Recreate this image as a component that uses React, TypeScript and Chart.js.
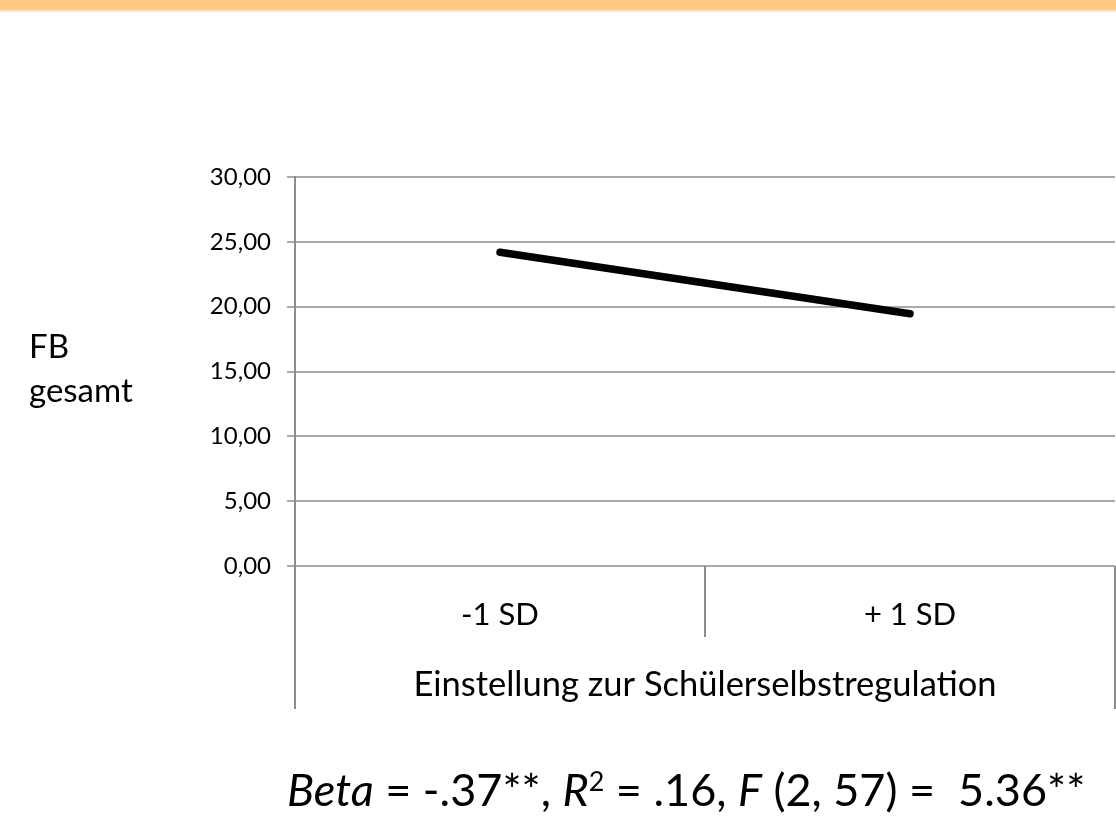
import React, { useEffect, useRef } from "react";
import { Chart, registerables } from "chart.js";

Chart.register(...registerables);

const categories = ["-1 SD", "+ 1 SD"];
const fbGesamt = [24.2, 19.45];
const yMin = 0;
const yMax = 30;
const yStep = 5;
const xTitle = "Einstellung zur Schülerselbstregulation";
const FONT = "Lato, 'Noto Sans', sans-serif";

const dividerPlugin = {
  id: "dividers",
  afterDraw(chart: any) {
    const { ctx, chartArea, scales } = chart;
    const x = scales.x;
    const mid = (x.getPixelForValue(0) + x.getPixelForValue(1)) / 2;
    ctx.save();
    ctx.strokeStyle = "#8c8c8c";
    ctx.lineWidth = 2;
    ctx.beginPath();
    ctx.moveTo(chartArea.left, chartArea.bottom);
    ctx.lineTo(chartArea.left, 709);
    ctx.moveTo(chartArea.right, chartArea.bottom);
    ctx.lineTo(chartArea.right, 709);
    ctx.moveTo(mid, chartArea.bottom);
    ctx.lineTo(mid, 637);
    ctx.stroke();
    ctx.restore();
  },
};

export default function App() {
  const ref = useRef<HTMLCanvasElement | null>(null);
  useEffect(() => {
    if (!ref.current) return;
    const chart = new Chart(ref.current, {
      type: "line",
      data: {
        labels: categories,
        datasets: [
          {
            data: fbGesamt,
            borderColor: "#000",
            borderWidth: 7.5,
            borderCapStyle: "round",
            pointRadius: 0,
            fill: false,
          },
        ],
      },
      options: {
        responsive: false,
        animation: false,
        layout: { padding: { top: 177, bottom: 109, right: 1, left: 0 } },
        plugins: { legend: { display: false }, tooltip: { enabled: false } },
        scales: {
          x: {
            offset: true,
            grid: { display: false, drawTicks: false },
            border: { display: false },
            ticks: {
              color: "#000",
              font: { family: FONT, size: 31 },
              padding: 30,
            },
            title: {
              display: true,
              text: xTitle,
              color: "#000",
              font: { family: FONT, size: 34.5 },
            },
            afterFit(scale: any) {
              scale.height = 144;
            },
          },
          y: {
            min: yMin,
            max: yMax,
            ticks: {
              stepSize: yStep,
              color: "#000",
              font: { family: FONT, size: 24 },
              padding: 16,
              callback: (v: any) => Number(v).toFixed(2).replace(".", ","),
            },
            grid: { color: "#a9a9a9", lineWidth: 2, tickLength: 8 },
            border: { display: true, color: "#8c8c8c", width: 2 },
            afterFit(scale: any) {
              scale.width = 295;
            },
          },
        },
      },
      plugins: [dividerPlugin],
    });
    return () => chart.destroy();
  }, []);

  return (
    <div style={{ position: "absolute", left: 0, top: 0, width: 1116, height: 819, background: "#fff", overflow: "hidden" }}>
      <div style={{ position: "absolute", left: 0, top: 0, width: 1116, height: 10, background: "#FFC885" }} />
      <div style={{ position: "absolute", left: 0, top: 10, width: 1116, height: 2, background: "#FFE4C0" }} />
      <canvas ref={ref} width={1116} height={819} style={{ display: "block" }} />
      <div style={{ position: "absolute", left: 29, top: 323, fontFamily: FONT, fontSize: 33, lineHeight: "44px", color: "#000" }}>
        FB
        <br />
        gesamt
      </div>
      <div style={{ position: "absolute", left: 287, top: 764, fontFamily: FONT, fontSize: 45, lineHeight: "50px", color: "#000", whiteSpace: "pre" }}>
        <i>Beta</i>
        {" = -.37**, "}
        <i>R</i>
        <sup style={{ fontSize: 27, verticalAlign: "top", lineHeight: "34px" }}>2</sup>
        {" = .16, "}
        <i>F</i>
        {" (2, 57) =  5.36**"}
      </div>
    </div>
  );
}
